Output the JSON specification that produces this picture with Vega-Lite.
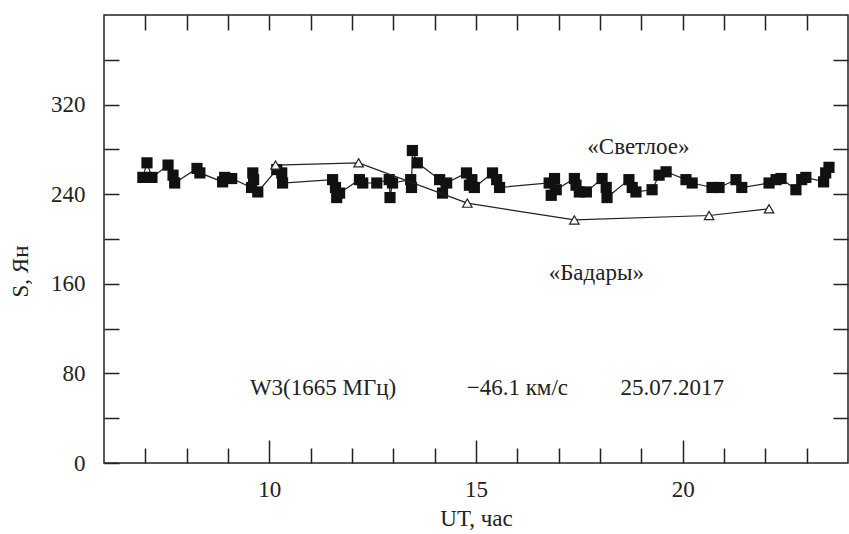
{
  "$schema": "https://vega.github.io/schema/vega-lite/v6.json",
  "width": 744,
  "height": 448,
  "autosize": {"type": "none"},
  "padding": {"left": 104, "top": 15, "right": 1, "bottom": 71},
  "background": "white",
  "config": {
    "view": {"stroke": "#222", "strokeWidth": 1.5},
    "font": "Liberation Serif",
    "axis": {
      "labelFont": "Liberation Serif",
      "labelFontSize": 23,
      "labelColor": "#222",
      "titleFont": "Liberation Serif",
      "titleFontSize": 23,
      "titleFontWeight": "normal",
      "titleColor": "#222",
      "domain": false,
      "tickColor": "#222",
      "tickWidth": 1.5,
      "grid": false
    }
  },
  "resolve": {"axis": {"x": "independent", "y": "independent"}},
  "layer": [
    {
      "data": {
        "values": [
          {"t": 11.3, "S": 67, "label": "W3(1665 МГц)"},
          {"t": 16.0, "S": 67, "label": "−46.1 км/с"},
          {"t": 19.75, "S": 67, "label": "25.07.2017"},
          {"t": 18.93, "S": 282, "label": "«Светлое»"},
          {"t": 17.91, "S": 170, "label": "«Бадары»"}
        ]
      },
      "mark": {"type": "text", "font": "Liberation Serif", "fontSize": 23, "color": "#222", "align": "center", "baseline": "middle"},
      "encoding": {
        "x": {"field": "t", "type": "quantitative", "scale": {"domain": [6, 24], "nice": false, "zero": false},
          "axis": {"orient": "bottom", "values": [7, 8, 9, 11, 12, 13, 14, 16, 17, 18, 19, 21, 22, 23], "tickSize": -15, "labels": false, "title": null}},
        "y": {"field": "S", "type": "quantitative", "scale": {"domain": [0, 400], "nice": false},
          "axis": {"orient": "right", "values": [40, 80, 120, 160, 200, 240, 280, 320, 360], "tickSize": -15, "labels": false, "title": null}},
        "text": {"field": "label"}
      }
    },
    {
      "data": {
        "values": [
          {"t": 6.94, "S": 255}, {"t": 7.04, "S": 268}, {"t": 7.16, "S": 255},
          {"t": 7.55, "S": 266}, {"t": 7.67, "S": 257}, {"t": 7.71, "S": 250},
          {"t": 8.25, "S": 263}, {"t": 8.32, "S": 259}, {"t": 8.87, "S": 251},
          {"t": 8.92, "S": 255}, {"t": 9.09, "S": 254}, {"t": 9.57, "S": 246},
          {"t": 9.6, "S": 259}, {"t": 9.62, "S": 253}, {"t": 9.72, "S": 242},
          {"t": 10.18, "S": 262}, {"t": 10.3, "S": 259}, {"t": 10.32, "S": 250},
          {"t": 11.53, "S": 253}, {"t": 11.6, "S": 246}, {"t": 11.63, "S": 237},
          {"t": 11.7, "S": 241}, {"t": 12.18, "S": 253}, {"t": 12.26, "S": 250},
          {"t": 12.6, "S": 250}, {"t": 12.9, "S": 253}, {"t": 12.92, "S": 237},
          {"t": 12.98, "S": 250}, {"t": 13.42, "S": 253}, {"t": 13.44, "S": 246},
          {"t": 13.46, "S": 279}, {"t": 13.58, "S": 268}, {"t": 14.12, "S": 253},
          {"t": 14.19, "S": 241}, {"t": 14.29, "S": 250}, {"t": 14.77, "S": 259},
          {"t": 14.84, "S": 248}, {"t": 14.9, "S": 253}, {"t": 14.96, "S": 246},
          {"t": 15.4, "S": 259}, {"t": 15.5, "S": 253}, {"t": 15.57, "S": 246},
          {"t": 16.77, "S": 250}, {"t": 16.82, "S": 239}, {"t": 16.9, "S": 254},
          {"t": 16.94, "S": 244}, {"t": 17.38, "S": 254}, {"t": 17.42, "S": 248},
          {"t": 17.5, "S": 242}, {"t": 17.67, "S": 242}, {"t": 18.05, "S": 254},
          {"t": 18.15, "S": 246}, {"t": 18.17, "S": 237}, {"t": 18.7, "S": 253},
          {"t": 18.78, "S": 246}, {"t": 18.87, "S": 242}, {"t": 19.26, "S": 244},
          {"t": 19.43, "S": 257}, {"t": 19.6, "S": 260}, {"t": 20.08, "S": 253},
          {"t": 20.23, "S": 250}, {"t": 20.71, "S": 246}, {"t": 20.88, "S": 246},
          {"t": 21.29, "S": 253}, {"t": 21.43, "S": 246}, {"t": 22.09, "S": 250},
          {"t": 22.26, "S": 253}, {"t": 22.38, "S": 254}, {"t": 22.74, "S": 244},
          {"t": 22.88, "S": 253}, {"t": 22.98, "S": 255}, {"t": 23.41, "S": 251},
          {"t": 23.46, "S": 259}, {"t": 23.54, "S": 264}
        ]
      },
      "mark": {"type": "line", "color": "#222", "strokeWidth": 1.2,
        "point": {"shape": "square", "filled": true, "color": "#111", "size": 125}},
      "encoding": {
        "x": {"field": "t", "type": "quantitative",
          "axis": {"orient": "bottom", "values": [10, 15, 20], "tickSize": -23, "labelPadding": 38, "title": "UT, час", "titlePadding": 6}},
        "y": {"field": "S", "type": "quantitative",
          "axis": {"orient": "left", "values": [0, 40, 80, 120, 160, 200, 240, 280, 320, 360], "tickSize": -15, "labelPadding": 34,
            "labelExpr": "datum.value % 80 == 0 ? datum.label : ''", "title": "S, Ян", "titleX": -72, "titleY": 256}}
      }
    },
    {
      "data": {
        "values": [
          {"t": 10.15, "S": 266},
          {"t": 12.16, "S": 268},
          {"t": 14.79, "S": 232},
          {"t": 17.38, "S": 217},
          {"t": 20.64, "S": 221},
          {"t": 22.09, "S": 227}
        ]
      },
      "mark": {"type": "line", "color": "#222", "strokeWidth": 1.2,
        "point": {"shape": "triangle-up", "filled": false, "fill": "white", "stroke": "#222", "strokeWidth": 1.2, "size": 90}},
      "encoding": {
        "x": {"field": "t", "type": "quantitative",
          "axis": {"orient": "top", "values": [7, 8, 9, 10, 11, 12, 13, 14, 15, 16, 17, 18, 19, 20, 21, 22, 23], "tickSize": -15, "labels": false, "title": null}},
        "y": {"field": "S", "type": "quantitative", "axis": null}
      }
    }
  ]
}
